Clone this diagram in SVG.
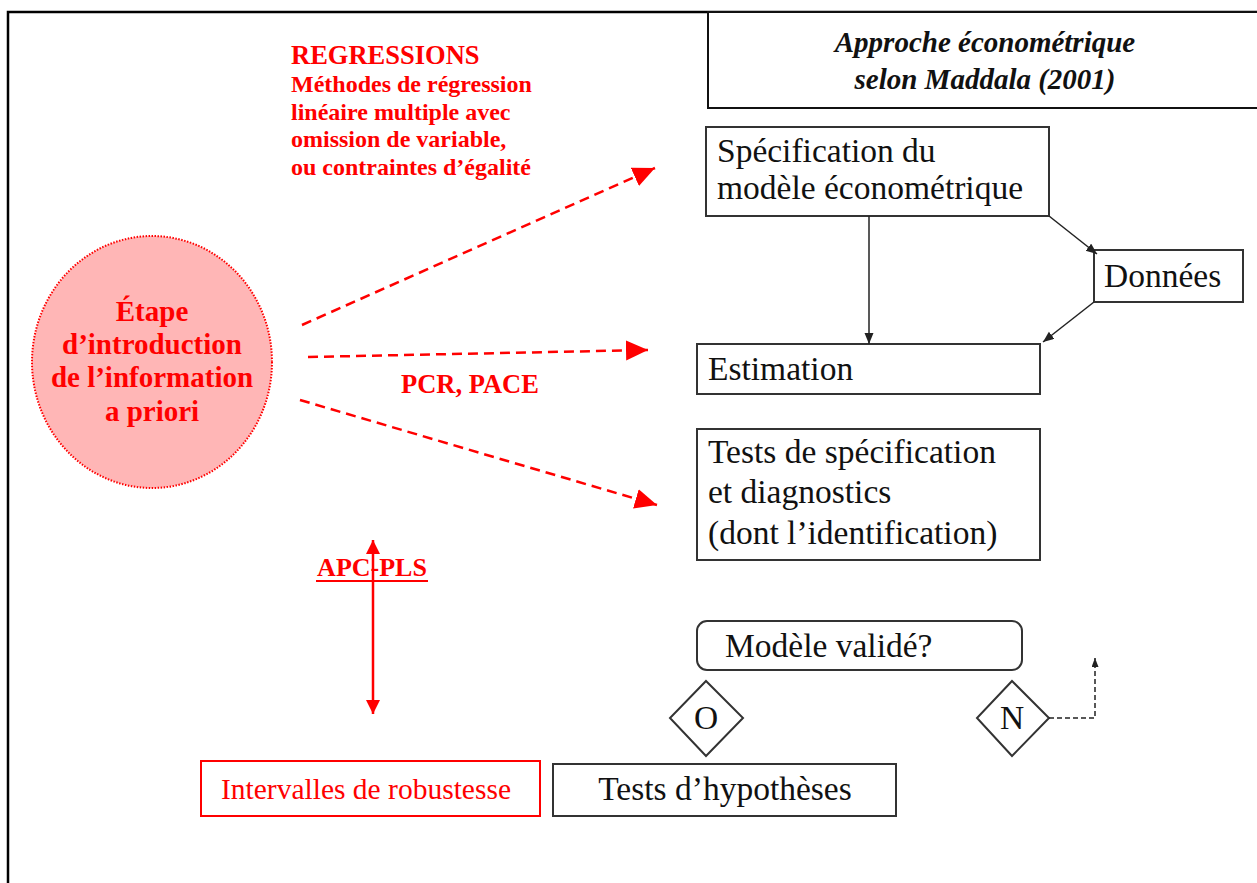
<svg xmlns="http://www.w3.org/2000/svg" width="1257" height="883" viewBox="0 0 1257 883">
<style>
.box{fill:#fff;stroke:#333;stroke-width:2}
.t{font-family:"Liberation Serif","Times New Roman",serif;font-size:33.5px;fill:#111}
.r{font-family:"Liberation Serif","Times New Roman",serif;font-weight:bold;fill:#f00}
.rd{fill:none;stroke:#f00;stroke-width:2.5;stroke-dasharray:10 6}
.bk{fill:none;stroke:#222;stroke-width:1.5}
</style>
<defs>
<marker id="ra" markerUnits="userSpaceOnUse" markerWidth="24" markerHeight="22" refX="22" refY="10" orient="auto"><path d="M0,0 L22,10 L0,20 z" fill="#f00"/></marker>
<marker id="ra2" markerUnits="userSpaceOnUse" markerWidth="16" markerHeight="16" refX="14" refY="7" orient="auto-start-reverse"><path d="M0,0 L14,7 L0,14 z" fill="#f00"/></marker>
<marker id="ba" markerUnits="userSpaceOnUse" markerWidth="12" markerHeight="10" refX="11" refY="4.5" orient="auto"><path d="M0,0 L11,4.5 L0,9 z" fill="#222"/></marker>
<marker id="ba2" markerUnits="userSpaceOnUse" markerWidth="10" markerHeight="8" refX="9" refY="3.5" orient="auto"><path d="M0,0 L9,3.5 L0,7 z" fill="#222"/></marker>
</defs>
<rect width="1257" height="883" fill="#fff"/>
<path d="M8,883 V12 H1257" fill="none" stroke="#000" stroke-width="2.5"/>

<g id="title">
<rect x="708" y="12" width="560" height="96" fill="#fff" stroke="#111" stroke-width="2"/>
<text x="985" y="52" text-anchor="middle" style="font-family:'Liberation Serif',serif;font-size:29px;font-style:italic;font-weight:bold" fill="#111">Approche économétrique</text>
<text x="985" y="89" text-anchor="middle" style="font-family:'Liberation Serif',serif;font-size:29px;font-style:italic;font-weight:bold" fill="#111">selon Maddala (2001)</text>
</g>

<g id="regressions">
<text class="r" x="291" y="64" font-size="26.5">REGRESSIONS</text>
<text class="r" x="291" y="92" font-size="24">Méthodes de régression</text>
<text class="r" x="291" y="120" font-size="24">linéaire multiple avec</text>
<text class="r" x="291" y="147" font-size="24">omission de variable,</text>
<text class="r" x="291" y="175" font-size="24">ou contraintes d’égalité</text>
</g>

<g id="etape">
<ellipse cx="152" cy="362" rx="120" ry="126" fill="#ffb6b6" stroke="#f00" stroke-width="2" stroke-dasharray="1.5 1.5"/>
<text class="r" x="152" y="321" font-size="29" text-anchor="middle">Étape</text>
<text class="r" x="152" y="354" font-size="29" text-anchor="middle">d’introduction</text>
<text class="r" x="152" y="387" font-size="29" text-anchor="middle">de l’information</text>
<text class="r" x="152" y="421" font-size="29" text-anchor="middle">a priori</text>
</g>

<g id="pcr">
<text class="r" x="470" y="393" font-size="26.5" text-anchor="middle">PCR, PACE</text>
</g>

<g id="specification">
<rect class="box" x="706" y="127" width="343" height="89"/>
<text class="t" x="717" y="162">Spécification du</text>
<text class="t" x="717" y="199">modèle économétrique</text>
</g>

<g id="donnees">
<rect class="box" x="1094" y="250" width="149" height="52"/>
<text class="t" x="1104" y="287">Données</text>
</g>

<g id="estimation">
<rect class="box" x="697" y="344" width="343" height="50"/>
<text class="t" x="708" y="380">Estimation</text>
</g>

<g id="tests">
<rect class="box" x="697" y="429" width="343" height="131"/>
<text class="t" x="708" y="463">Tests de spécification</text>
<text class="t" x="708" y="503">et diagnostics</text>
<text class="t" x="708" y="544">(dont l’identification)</text>
</g>

<g id="valide">
<rect class="box" x="697" y="621" width="325" height="49" rx="10"/>
<text class="t" x="725" y="657">Modèle validé?</text>
</g>

<g id="diamondO">
<polygon class="box" points="706,681 743,718 706,756 670,718"/>
<text class="t" x="706" y="729" text-anchor="middle">O</text>
</g>

<g id="diamondN">
<polygon class="box" points="1012,681 1049,718 1012,756 977,718"/>
<text class="t" x="1012" y="729" text-anchor="middle">N</text>
</g>

<g id="hypotheses">
<rect class="box" x="553" y="764" width="343" height="52"/>
<text class="t" x="725" y="800" text-anchor="middle">Tests d’hypothèses</text>
</g>

<g id="intervalles">
<rect x="201" y="761" width="339" height="55" fill="#fff" stroke="#f00" stroke-width="2"/>
<text x="366" y="799" text-anchor="middle" style="font-family:'Liberation Serif',serif;font-size:29.5px" fill="#f00">Intervalles de robustesse</text>
</g>

<g id="apcpls">
<text class="r" x="372" y="576" font-size="26" text-anchor="middle">APC-PLS</text>
<line x1="316" y1="581" x2="428" y2="581" stroke="#f00" stroke-width="2"/>
</g>

<g id="connectors">
<line class="rd" x1="302" y1="325" x2="655" y2="168" marker-end="url(#ra)"/>
<line class="rd" x1="308" y1="357" x2="648" y2="350" marker-end="url(#ra)"/>
<line class="rd" x1="300" y1="400" x2="657" y2="505" marker-end="url(#ra)"/>
<line x1="373" y1="540" x2="373" y2="714" stroke="#f00" stroke-width="2.5" marker-start="url(#ra2)" marker-end="url(#ra2)"/>
<line class="bk" x1="869" y1="216" x2="869" y2="344" marker-end="url(#ba)"/>
<line class="bk" x1="1049" y1="216" x2="1097" y2="254" marker-end="url(#ba)"/>
<line class="bk" x1="1094" y1="302" x2="1043" y2="342" marker-end="url(#ba)"/>
<path d="M1049,718 H1095 V658" fill="none" stroke="#222" stroke-width="1.5" stroke-dasharray="5 3" marker-end="url(#ba2)"/>
</g>
</svg>
